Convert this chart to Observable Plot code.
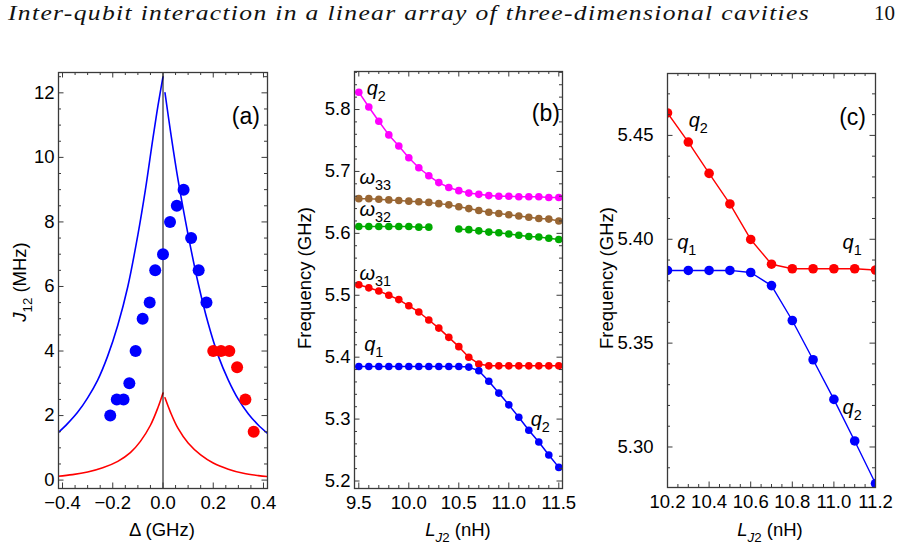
<!DOCTYPE html>
<html>
<head>
<meta charset="utf-8">
<script src="https://cdn.jsdelivr.net/npm/d3@7"></script>
<script src="https://cdn.jsdelivr.net/npm/@observablehq/plot@0.6"></script>
<style>
  body { margin: 0; background: #fff; }
  #page { position: relative; width: 900px; height: 548px; overflow: hidden; background: #fff; }
  #header { position: absolute; left: 8px; top: 1px; font-family: "Liberation Serif", serif;
            font-style: italic; font-weight: normal; font-size: 21px; letter-spacing: 1.1px;
            white-space: nowrap; transform-origin: 0 0; color: #111; }
  #pageno { position: absolute; left: 874px; top: 1px; font-family: "Liberation Serif", serif; font-size: 21px; color: #111; }
  .panel { position: absolute; top: 40px; }
</style>
</head>
<body>
<div id="page">
  <div id="header">Inter-qubit interaction in a linear array of three-dimensional cavities</div>
  <div id="pageno">10</div>
  <div id="pa" class="panel" style="left:0px"></div>
  <div id="pb" class="panel" style="left:290px"></div>
  <div id="pc" class="panel" style="left:580px"></div>
</div>
<script>
// ---------- (a) effective coupling J12 versus detuning ----------
const detuneBlue   = [0.082, 0.055, 0.028, 0.112, 0.000, 0.142, -0.031, -0.053, 0.173, -0.081, -0.109, -0.134, -0.157, -0.184, -0.210];
const couplingBlue = [9.0, 8.5, 8.0, 7.5, 7.0, 6.5, 6.5, 5.5, 5.5, 5.0, 4.0, 3.0, 2.5, 2.5, 2.0];
const detuneRed    = [0.200, 0.231, 0.264, 0.295, 0.328, 0.361];
const couplingRed  = [4.0, 4.0, 4.0, 3.5, 2.5, 1.5];

// model curves, left (Δ < 0) and right (Δ > 0) branches
const blueLeftD  = [-0.42, -0.38, -0.34, -0.30, -0.26, -0.22, -0.18, -0.14, -0.10, -0.07, -0.04, -0.02, 0.0];
const blueLeftJ  = [1.45, 1.75, 2.1, 2.55, 3.1, 3.85, 4.8, 6.0, 7.6, 9.0, 10.6, 11.6, 12.5];
const blueRightD = [0.008, 0.03, 0.06, 0.10, 0.14, 0.18, 0.22, 0.26, 0.30, 0.34, 0.38, 0.42];
const blueRightJ = [12.0, 10.8, 9.3, 7.6, 6.1, 4.85, 3.85, 3.1, 2.5, 2.05, 1.7, 1.42];
const redLeftD   = [-0.42, -0.36, -0.30, -0.24, -0.18, -0.13, -0.09, -0.05, -0.02, 0.0];
const redLeftJ   = [0.12, 0.17, 0.25, 0.38, 0.58, 0.85, 1.2, 1.7, 2.25, 2.7];
const redRightD  = [0.008, 0.03, 0.06, 0.10, 0.15, 0.20, 0.26, 0.32, 0.38, 0.42];
const redRightJ  = [2.55, 2.1, 1.6, 1.15, 0.78, 0.53, 0.34, 0.21, 0.14, 0.11];

const aXTicks = [-0.4, -0.2, 0.0, 0.2, 0.4];
const aYTicks = [0, 2, 4, 6, 8, 10, 12];

// ---------- (b) frequencies versus LJ2 ----------
const ljB = [9.5, 9.6, 9.7, 9.8, 9.9, 10.0, 10.1, 10.2, 10.3, 10.4, 10.5, 10.6, 10.7, 10.8, 10.9, 11.0, 11.1, 11.2, 11.3, 11.4, 11.5];
const q2Upper = [5.828, 5.804, 5.781, 5.759, 5.741, 5.722, 5.706, 5.693, 5.682, 5.674, 5.669, 5.665, 5.663, 5.661, 5.660, 5.660, 5.659, 5.659, 5.659, 5.658, 5.658];
const omega33 = [5.656, 5.656, 5.655, 5.654, 5.653, 5.652, 5.651, 5.650, 5.648, 5.646, 5.643, 5.640, 5.637, 5.634, 5.632, 5.630, 5.628, 5.626, 5.624, 5.623, 5.620];
const omega32 = [5.611, 5.611, 5.611, 5.611, 5.611, 5.611, 5.610, 5.610, null, null, 5.607, 5.606, 5.604, 5.602, 5.601, 5.599, 5.597, 5.595, 5.594, 5.592, 5.590];
const omega31 = [5.517, 5.512, 5.507, 5.500, 5.493, 5.483, 5.473, 5.460, 5.447, 5.432, 5.417, 5.400, 5.389, 5.386, 5.386, 5.386, 5.386, 5.386, 5.386, 5.386, 5.386];
const q1Lower = [5.385, 5.385, 5.385, 5.385, 5.385, 5.385, 5.385, 5.385, 5.385, 5.385, 5.385, 5.384, 5.378, 5.361, 5.342, 5.323, 5.303, 5.282, 5.263, 5.242, 5.222];
const bXTicks = [9.5, 10.0, 10.5, 11.0, 11.5];
const bYTicks = [5.2, 5.3, 5.4, 5.5, 5.6, 5.7, 5.8];

// ---------- (c) close-up of the anticrossing ----------
const ljC = [10.2, 10.3, 10.4, 10.5, 10.6, 10.7, 10.8, 10.9, 11.0, 11.1, 11.2];
const upperC = [5.4608, 5.4468, 5.4317, 5.4170, 5.3999, 5.3880, 5.3858, 5.3858, 5.3858, 5.3858, 5.3852];
const lowerC = [5.3850, 5.3850, 5.3850, 5.3850, 5.3840, 5.3777, 5.3609, 5.3420, 5.3229, 5.3029, 5.2824];
const cXTicks = [10.2, 10.4, 10.6, 10.8, 11.0, 11.2];
const cYTicks = [5.30, 5.35, 5.40, 5.45];

// ---------- helpers ----------
const FONT = '"Liberation Sans", Arial, Helvetica, sans-serif';
const BLUE = "#0000ff", RED = "#ff0000", MAGENTA = "#ff00ff", BROWN = "#996633", GREEN = "#00aa00";
const FRAME = "#3a3a3a";
const TICK_FONT = 18.5, LABEL_FONT = 18.5, NOTE_FONT = 20, TAG_FONT = 23;
const zip = (xs, ys) => xs.map((x, i) => ({x, y: ys[i]}));
const minus = s => s.replace("-", "\u2212");

// inward ticks on all four sides of the frame, plus the frame itself
function frameMarks({xMajor, xMinor, yMajor, yMinor, w, h}) {
  const M = 5.5, m = 3;
  const o = {stroke: FRAME, strokeWidth: 1};
  return [
    Plot.tickX(xMajor, {...o, x: d => d, insetTop: h - M}),
    Plot.tickX(xMajor, {...o, x: d => d, insetBottom: h - M}),
    Plot.tickX(xMinor, {...o, x: d => d, insetTop: h - m}),
    Plot.tickX(xMinor, {...o, x: d => d, insetBottom: h - m}),
    Plot.tickY(yMajor, {...o, y: d => d, insetRight: w - M}),
    Plot.tickY(yMajor, {...o, y: d => d, insetLeft: w - M}),
    Plot.tickY(yMinor, {...o, y: d => d, insetRight: w - m}),
    Plot.tickY(yMinor, {...o, y: d => d, insetLeft: w - m}),
    Plot.frame({stroke: FRAME, strokeWidth: 1.3})
  ];
}

// text with italic parts and subscripts
function rich(svg, x, y, parts, {size = NOTE_FONT, rotate = 0, anchor = "middle"} = {}) {
  const t = d3.select(svg).append("text")
    .attr("transform", `translate(${x},${y})` + (rotate ? ` rotate(${rotate})` : ""))
    .attr("text-anchor", anchor)
    .attr("y", size * 0.35)
    .attr("font-family", FONT)
    .attr("font-size", size)
    .attr("fill", "black");
  const shift = size * 0.3;
  let low = false;
  for (const [s, kind = ""] of parts) {
    const ts = t.append("tspan").text(s);
    if (kind.includes("i")) ts.attr("font-style", "italic");
    if (kind.includes("s")) {
      ts.attr("font-size", size * 0.72);
      if (!low) { ts.attr("dy", shift); low = true; }
    } else if (low) { ts.attr("dy", -shift); low = false; }
  }
}

function panel({width, height, ml, mr, mt, mb, xDomain, yDomain, clip, marks, xMajor, xMinor, yMajor, yMinor, xFmt, yFmt, yPad = 5}) {
  const w = width - ml - mr, h = height - mt - mb;
  return Plot.plot({
    width, height,
    marginLeft: ml, marginRight: mr, marginTop: mt, marginBottom: mb,
    x: {domain: xDomain},
    y: {domain: yDomain},
    clip,
    style: {fontFamily: FONT, fontSize: `${TICK_FONT}px`, color: "black", background: "white", overflow: "visible"},
    marks: [
      ...marks,
      ...frameMarks({xMajor, xMinor, yMajor, yMinor, w, h}),
      Plot.axisX(xMajor, {tickSize: 0, tickPadding: 7, tickFormat: xFmt, fontSize: TICK_FONT, label: null}),
      Plot.axisY(yMajor, {tickSize: 0, tickPadding: yPad, tickFormat: yFmt, fontSize: TICK_FONT, label: null})
    ]
  });
}

// ---------- panel (a) ----------
{
  const A = {width: 290, height: 508, ml: 58, mr: 23, mt: 32, mb: 60};
  const plot = panel({
    ...A,
    xDomain: [-0.416, 0.416], yDomain: [-0.26, 12.63], clip: true, yPad: 4,
    xMajor: aXTicks, xMinor: d3.range(-0.4, 0.4001, 0.05).filter(v => !aXTicks.some(t => Math.abs(t - v) < 1e-6)),
    yMajor: aYTicks, yMinor: d3.range(0, 12.6, 0.5).filter(v => v % 2 !== 0),
    xFmt: d => minus(d.toFixed(1)), yFmt: d => String(d),
    marks: [
      Plot.line(zip(blueLeftD, blueLeftJ), {x: "x", y: "y", stroke: BLUE, strokeWidth: 1.6, curve: "catmull-rom"}),
      Plot.line(zip(blueRightD, blueRightJ), {x: "x", y: "y", stroke: BLUE, strokeWidth: 1.6, curve: "catmull-rom"}),
      Plot.line(zip(redLeftD, redLeftJ), {x: "x", y: "y", stroke: RED, strokeWidth: 1.6, curve: "catmull-rom"}),
      Plot.line(zip(redRightD, redRightJ), {x: "x", y: "y", stroke: RED, strokeWidth: 1.6, curve: "catmull-rom"}),
      Plot.ruleX([0], {stroke: "black", strokeWidth: 1}),
      Plot.dot(zip(detuneBlue, couplingBlue), {x: "x", y: "y", r: 6, fill: BLUE}),
      Plot.dot(zip(detuneRed, couplingRed), {x: "x", y: "y", r: 6, fill: RED}),
      Plot.text(["(a)"], {x: 0.33, y: 11.25, fontSize: TAG_FONT, fill: "black"})
    ]
  });
  document.getElementById("pa").appendChild(plot);
  rich(plot, 20, 242, [["J", "i"], ["12", "s"], [" (MHz)"]], {rotate: -90, size: LABEL_FONT});
  rich(plot, 162, 490, [["\u0394 (GHz)"]], {size: LABEL_FONT});
}

// ---------- panel (b) ----------
{
  const B = {width: 290, height: 508, ml: 64, mr: 18, mt: 31, mb: 60};
  const series = [[q2Upper, MAGENTA], [omega33, BROWN], [omega32, GREEN], [omega31, RED], [q1Lower, BLUE]];
  const marks = [];
  for (const [vals, color] of series) {
    const d = zip(ljB, vals);
    marks.push(Plot.line(d, {x: "x", y: "y", stroke: color, strokeWidth: 1.5}));
    marks.push(Plot.dot(d, {x: "x", y: "y", r: 3.8, fill: color}));
  }
  marks.push(Plot.text(["(b)"], {x: 11.37, y: 5.793, fontSize: TAG_FONT, fill: "black"}));
  const plot = panel({
    ...B,
    xDomain: [9.457, 11.537], yDomain: [5.1879, 5.8614], clip: false, yPad: 4,
    xMajor: bXTicks, xMinor: d3.range(9.5, 11.501, 0.1).filter(v => Math.abs(v * 2 - Math.round(v * 2)) > 1e-6),
    yMajor: bYTicks, yMinor: d3.range(5.2, 5.861, 0.02).filter(v => Math.abs(v * 10 - Math.round(v * 10)) > 1e-6),
    xFmt: d => d.toFixed(1), yFmt: d => d.toFixed(1),
    marks
  });
  document.getElementById("pb").appendChild(plot);
  const X = plot.scale("x"), Y = plot.scale("y");
  const at = (x, y) => [X.apply(x), Y.apply(y)];
  rich(plot, ...at(9.68, 5.834), [["q", "i"], ["2", "s"]]);
  rich(plot, ...at(9.67, 5.690), [["\u03c9", "i"], ["33", "s"]]);
  rich(plot, ...at(9.67, 5.638), [["\u03c9", "i"], ["32", "s"]]);
  rich(plot, ...at(9.67, 5.535), [["\u03c9", "i"], ["31", "s"]]);
  rich(plot, ...at(9.655, 5.421), [["q", "i"], ["1", "s"]]);
  rich(plot, ...at(11.32, 5.300), [["q", "i"], ["2", "s"]]);
  rich(plot, 15, 238, [["Frequency (GHz)"]], {rotate: -90, size: LABEL_FONT});
  rich(plot, 168, 490, [["L", "i"], ["J", "is"], ["2", "s"], [" (nH)"]], {size: LABEL_FONT});
}

// ---------- panel (c) ----------
{
  const C = {width: 320, height: 508, ml: 87, mr: 25, mt: 33, mb: 61};
  const up = zip(ljC, upperC), lo = zip(ljC, lowerC);
  const plot = panel({
    ...C,
    xDomain: [10.2, 11.2], yDomain: [5.2805, 5.4798], clip: true, yPad: 14,
    xMajor: cXTicks, xMinor: d3.range(10.25, 11.2, 0.05).filter(v => Math.abs(v * 5 - Math.round(v * 5)) > 1e-6),
    yMajor: cYTicks, yMinor: d3.range(5.29, 5.48, 0.01).filter(v => Math.abs(v * 20 - Math.round(v * 20)) > 1e-6),
    xFmt: d => d.toFixed(1), yFmt: d => d.toFixed(2),
    marks: [
      Plot.line(up, {x: "x", y: "y", stroke: RED, strokeWidth: 1.4}),
      Plot.dot(up, {x: "x", y: "y", r: 4.8, fill: RED}),
      Plot.line(lo, {x: "x", y: "y", stroke: BLUE, strokeWidth: 1.4}),
      Plot.dot(lo, {x: "x", y: "y", r: 4.8, fill: BLUE}),
      Plot.text(["(c)"], {x: 11.09, y: 5.4587, fontSize: TAG_FONT, fill: "black"})
    ]
  });
  document.getElementById("pc").appendChild(plot);
  const X = plot.scale("x"), Y = plot.scale("y");
  const at = (x, y) => [X.apply(x), Y.apply(y)];
  rich(plot, ...at(10.35, 5.457), [["q", "i"], ["2", "s"]]);
  rich(plot, ...at(10.295, 5.3986), [["q", "i"], ["1", "s"]]);
  rich(plot, ...at(11.09, 5.3986), [["q", "i"], ["1", "s"]]);
  rich(plot, ...at(11.09, 5.319), [["q", "i"], ["2", "s"]]);
  rich(plot, 27, 238, [["Frequency (GHz)"]], {rotate: -90, size: LABEL_FONT});
  rich(plot, 190, 490, [["L", "i"], ["J", "is"], ["2", "s"], [" (nH)"]], {size: LABEL_FONT});
}

// fit the running head to its line width
{
  const hd = document.getElementById("header");
  const w = hd.getBoundingClientRect().width;
  hd.style.transform = `scaleX(${802 / w})`;
}
</script>
</body>
</html>
